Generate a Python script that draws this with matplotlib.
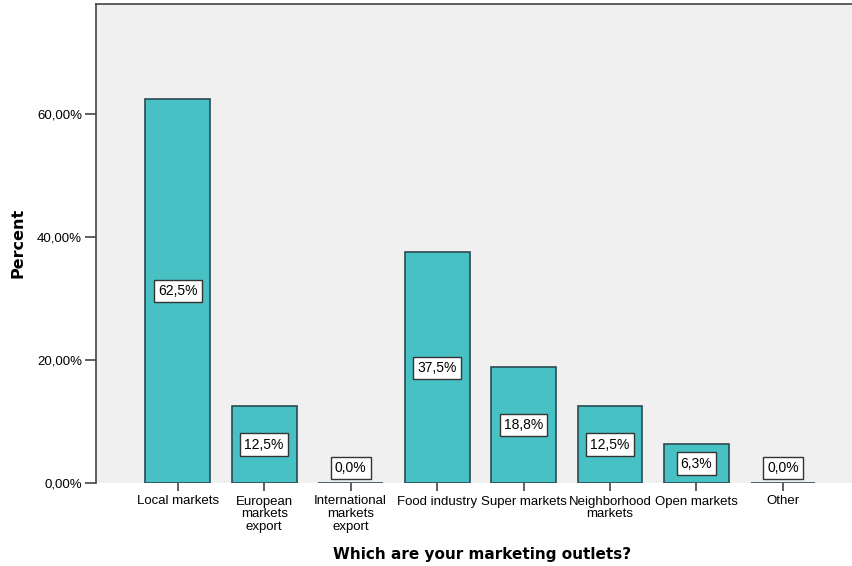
import matplotlib.pyplot as plt
import numpy as np

categories = ['Local markets', 'European\nmarkets\nexport', 'International\nmarkets\nexport',
              'Food industry', 'Super markets', 'Neighborhood\nmarkets', 'Open markets', 'Other']
percents = [62.5, 12.5, 0.0, 37.5, 18.8, 12.5, 6.3, 0.0]
yticks = [0, 20, 40, 60]

plt.rcParams['font.family'] = ['Liberation Sans', 'DejaVu Sans']

fig = plt.figure(figsize=(8.53, 5.66), dpi=100)
ax = fig.add_axes([96 / 853, 83 / 566, 1 - 96 / 853, 479 / 566])
ax.set_facecolor('#f0f0f0')

x = np.arange(len(categories))
ax.bar(x, percents, width=0.75, color='#48c1c4', edgecolor='#2a4a50', linewidth=1.2, zorder=2)

# value boxes: middle of the bar, or just above the baseline for empty bars
for xi, v in zip(x, percents):
    label = f'{v:.1f}%'.replace('.', ',')
    box = dict(boxstyle='square,pad=0.3', facecolor='white', edgecolor='#333333', linewidth=1.0)
    if v > 0:
        ax.text(xi, v / 2, label, ha='center', va='center', fontsize=10, bbox=box, zorder=3)
    else:
        ax.annotate(label, (xi, 0), xytext=(0, 11), textcoords='offset points',
                    ha='center', va='center', fontsize=10, bbox=box, zorder=3)

ax.set_xlim(-0.945, 7.81)
ax.set_ylim(0, 77.9)
ax.set_yticks(yticks)
ax.set_yticklabels([f'{t:.2f}%'.replace('.', ',') for t in yticks], fontsize=9.5)
ax.set_xticks(x)
ax.set_xticklabels(categories, fontsize=9.5, linespacing=1.1)

for side in ['right', 'bottom']:
    ax.spines[side].set_visible(False)
for side in ['left', 'top']:
    ax.spines[side].set_color('#444444')
    ax.spines[side].set_linewidth(1.2)

ax.tick_params(axis='y', length=8, width=1.2, color='#444444', pad=2)
ax.tick_params(axis='x', length=6, width=1.2, color='#444444', pad=3)

ax.set_ylabel('Percent', fontsize=11.5, fontweight='bold', family='DejaVu Sans')
ax.yaxis.set_label_coords(-(96 - 26) / (853 - 96), (483 - 243) / 479)
ax.set_xlabel('Which are your marketing outlets?', fontsize=11, fontweight='bold',
              family='DejaVu Sans')
ax.xaxis.set_label_coords((482 - 96) / (853 - 96), -(547 - 483) / 479)

fig.savefig('out.png', dpi=100)
